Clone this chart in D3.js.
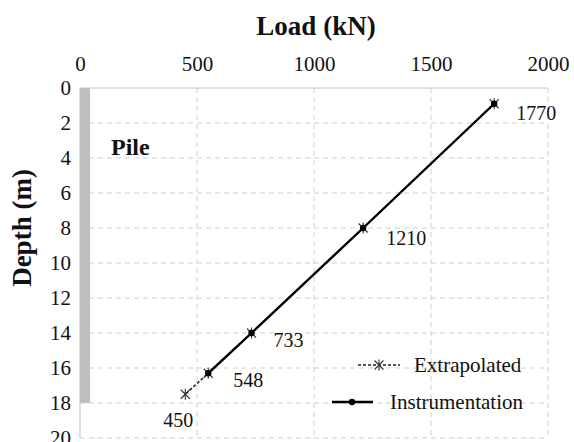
<!DOCTYPE html>
<html>
<head>
<meta charset="utf-8">
<script src="https://cdn.jsdelivr.net/npm/d3@7"></script>
<style>
  body { margin: 0; background: #fff; }
  text { font-family: "Liberation Serif", "Times New Roman", serif; fill: #111; }
</style>
</head>
<body>
<div id="chart"></div>
<script>
// values
var loads = [1770, 1210, 733, 548, 450];          // kN
var depths = [0.9, 8, 14, 16.3, 17.5];             // m
var instrumentedCount = 4;                         // first 4 points are measured
var xTicks = [0, 500, 1000, 1500, 2000];
var yTicks = [0, 2, 4, 6, 8, 10, 12, 14, 16, 18, 20];
var pileDepth = [0, 18];
var labelOffsets = [[22, 16], [23, 17], [22, 14], [25, 14], [-22, 33]];

var margin = {top: 88, right: 26, bottom: 4, left: 80}
    , width = 574 - margin.left - margin.right
    , height = 442 - margin.top - margin.bottom;

var x = d3.scaleLinear().domain([0, 2000]).range([0, width]);
var y = d3.scaleLinear().domain([0, 20]).range([0, height]);

var svg = d3.select('#chart').append('svg')
    .attr('width', 574)
    .attr('height', 442);

svg.append('rect').attr('width', 574).attr('height', 442).attr('fill', '#fff');

var main = svg.append('g')
    .attr('transform', 'translate(' + margin.left + ',' + margin.top + ')');

// dashed grid
main.selectAll('.vgrid')
    .data(xTicks.slice(1))
    .enter().append('line')
    .attr('x1', function (d) { return x(d); })
    .attr('x2', function (d) { return x(d); })
    .attr('y1', 0).attr('y2', height)
    .style('stroke', '#cfcfcf').style('stroke-width', 1)
    .style('stroke-dasharray', '5,4');

main.selectAll('.hgrid')
    .data(yTicks.slice(1))
    .enter().append('line')
    .attr('x1', 0).attr('x2', width)
    .attr('y1', function (d) { return y(d); })
    .attr('y2', function (d) { return y(d); })
    .style('stroke', '#cfcfcf').style('stroke-width', 1)
    .style('stroke-dasharray', '5,4');

// solid top and left frame
main.append('line').attr('x1', 0).attr('x2', width).attr('y1', 0).attr('y2', 0)
    .style('stroke', '#c6c6c6').style('stroke-width', 1.2);
main.append('line').attr('x1', 0).attr('x2', 0).attr('y1', 0).attr('y2', height)
    .style('stroke', '#c6c6c6').style('stroke-width', 1.2);

// pile
main.append('rect')
    .attr('x', x(0))
    .attr('y', y(pileDepth[0]))
    .attr('width', 10)
    .attr('height', y(pileDepth[1]) - y(pileDepth[0]))
    .style('fill', '#bfbfbf');

main.append('text')
    .attr('x', 31).attr('y', 67)
    .style('font-size', '24px').style('font-weight', 'bold')
    .text('Pile');

// axes
var xAxis = main.append('g')
    .call(d3.axisTop(x).tickValues(xTicks).tickFormat(d3.format('d')).tickSize(0).tickPadding(17));
xAxis.select('.domain').remove();
xAxis.selectAll('text').style('font-size', '21px')
    .style('font-family', '"Liberation Serif", serif').attr('fill', '#111');

var yAxis = main.append('g')
    .call(d3.axisLeft(y).tickValues(yTicks).tickFormat(d3.format('d')).tickSize(0).tickPadding(9));
yAxis.select('.domain').remove();
yAxis.selectAll('text').style('font-size', '21px')
    .style('font-family', '"Liberation Serif", serif').attr('fill', '#111');

svg.append('text')
    .attr('x', 316).attr('y', 35)
    .attr('text-anchor', 'middle')
    .style('font-size', '27px').style('font-weight', 'bold')
    .text('Load (kN)');

svg.append('text')
    .attr('transform', 'translate(31,228) rotate(-90)')
    .attr('text-anchor', 'middle')
    .style('font-size', '27px').style('font-weight', 'bold')
    .text('Depth (m)');

var points = loads.map(function (d, i) { return {load: d, depth: depths[i], i: i}; });

var line = d3.line()
    .x(function (d) { return x(d.load); })
    .y(function (d) { return y(d.depth); });

function star(g, cx, cy, s) {
    g.append('path')
        .attr('d', 'M' + (cx - s) + ',' + (cy - s) + 'L' + (cx + s) + ',' + (cy + s) +
            'M' + (cx - s) + ',' + (cy + s) + 'L' + (cx + s) + ',' + (cy - s) +
            'M' + cx + ',' + (cy - s * 1.2) + 'L' + cx + ',' + (cy + s * 1.2))
        .style('stroke', '#333').style('stroke-width', 1.1).style('fill', 'none');
}

// extrapolated series (all points, dashed, star markers)
main.append('path')
    .datum(points)
    .attr('d', line)
    .style('fill', 'none').style('stroke', '#222')
    .style('stroke-width', 1.6).style('stroke-dasharray', '3,2');

points.forEach(function (d) { star(main, x(d.load), y(d.depth), 4.5); });

// instrumentation series
main.append('path')
    .datum(points.slice(0, instrumentedCount))
    .attr('d', line)
    .style('fill', 'none').style('stroke', '#000').style('stroke-width', 2.4);

main.selectAll('.dot')
    .data(points.slice(0, instrumentedCount))
    .enter().append('circle')
    .attr('cx', function (d) { return x(d.load); })
    .attr('cy', function (d) { return y(d.depth); })
    .attr('r', 3.2)
    .style('fill', '#000');

// value labels
main.selectAll('.lbl')
    .data(points)
    .enter().append('text')
    .attr('x', function (d) { return x(d.load) + labelOffsets[d.i][0]; })
    .attr('y', function (d) { return y(d.depth) + labelOffsets[d.i][1]; })
    .style('font-size', '20px')
    .text(function (d) { return d.load; });

// legend
var legend = svg.append('g');
legend.append('line').attr('x1', 358).attr('x2', 400).attr('y1', 365).attr('y2', 365)
    .style('stroke', '#222').style('stroke-width', 1.6).style('stroke-dasharray', '3,2');
star(legend, 379, 365, 4.5);
legend.append('text').attr('x', 414).attr('y', 372).style('font-size', '21px').text('Extrapolated');

legend.append('line').attr('x1', 332).attr('x2', 373).attr('y1', 402).attr('y2', 402)
    .style('stroke', '#000').style('stroke-width', 2.4);
legend.append('circle').attr('cx', 352).attr('cy', 402).attr('r', 3.2).style('fill', '#000');
legend.append('text').attr('x', 390).attr('y', 409).style('font-size', '21px').text('Instrumentation');
</script>
</body>
</html>
